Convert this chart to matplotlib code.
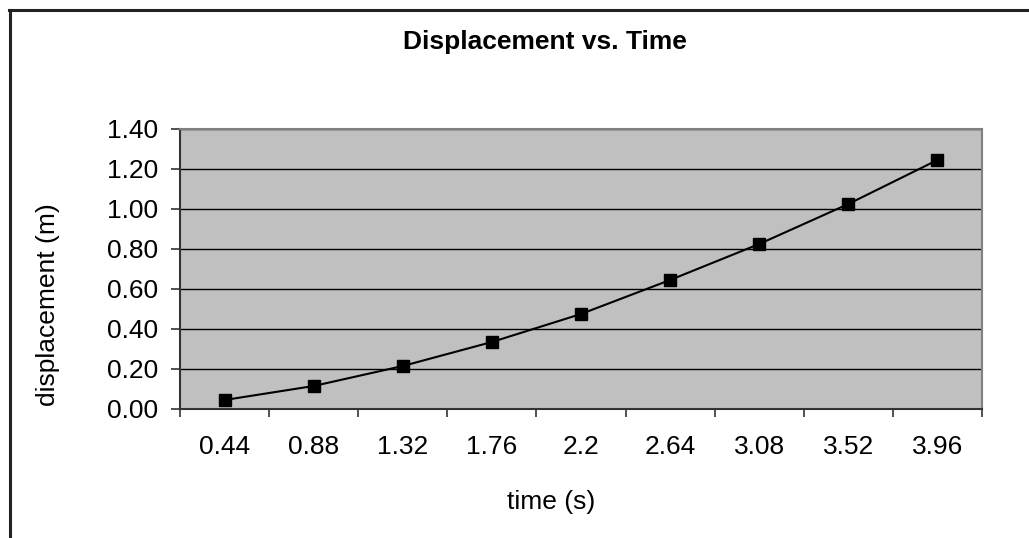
import matplotlib.pyplot as plt
from matplotlib.lines import Line2D
from matplotlib.ticker import MultipleLocator, FixedLocator

plt.rcParams['font.family'] = ['Liberation Sans', 'DejaVu Sans']

time_labels = ['0.44', '0.88', '1.32', '1.76', '2.2', '2.64', '3.08', '3.52', '3.96']
displacement = [0.045, 0.115, 0.215, 0.335, 0.475, 0.645, 0.825, 1.025, 1.245]

W, H = 1029, 538
fig = plt.figure(figsize=(W / 100, H / 100), dpi=100)
fig.patch.set_facecolor('white')

# plot area in pixels: x 180..982, y 129..409
ax = fig.add_axes([180 / W, 1 - 409 / H, 802 / W, 280 / H])
ax.set_facecolor('#c0c0c0')

x = list(range(len(time_labels)))
ax.plot(x, displacement, color='black', lw=1.5, marker='s', ms=8,
        mec='black', mfc='black', zorder=3)

ax.set_xlim(-0.5, len(time_labels) - 0.5)
ax.set_ylim(0, 1.4)
ax.yaxis.set_major_locator(MultipleLocator(0.2))
ax.set_yticklabels([f'{v:.2f}' for v in ax.get_yticks()])
ax.grid(axis='y', color='black', lw=1.0, zorder=1)
ax.set_axisbelow(True)

ax.xaxis.set_major_locator(FixedLocator(x))
ax.set_xticklabels(time_labels)
ax.xaxis.set_minor_locator(FixedLocator([i - 0.5 for i in range(len(time_labels) + 1)]))
ax.tick_params(axis='x', which='major', length=0, pad=19, labelsize=19)
ax.tick_params(axis='x', which='minor', length=6, width=1.2, color='#333333')
ax.tick_params(axis='y', length=6.5, width=1.2, color='#333333', pad=9, labelsize=19)

for side in ['left', 'bottom']:
    ax.spines[side].set_color('#333333')
    ax.spines[side].set_linewidth(1.5)
for side in ['top', 'right']:
    ax.spines[side].set_color('#808080')
    ax.spines[side].set_linewidth(1.5)

fig.text(545 / W, 1 - 42 / H, 'Displacement vs. Time', ha='center', va='center',
         fontsize=19, fontweight='bold')
fig.text(48 / W, 1 - 305 / H, 'displacement (m)', ha='center', va='center',
         rotation=90, fontsize=19)
fig.text(551 / W, 1 - 502 / H, 'time (s)', ha='center', va='center', fontsize=19)

# outer chart frame (only left and top edges are visible)
fig.add_artist(Line2D([10 / W, 10 / W], [0, 1 - 10 / H], transform=fig.transFigure,
                      color='#222222', lw=2.2))
fig.add_artist(Line2D([9 / W, 1], [1 - 10 / H, 1 - 10 / H], transform=fig.transFigure,
                      color='#222222', lw=2.2))

fig.savefig('out.png', dpi=100)
